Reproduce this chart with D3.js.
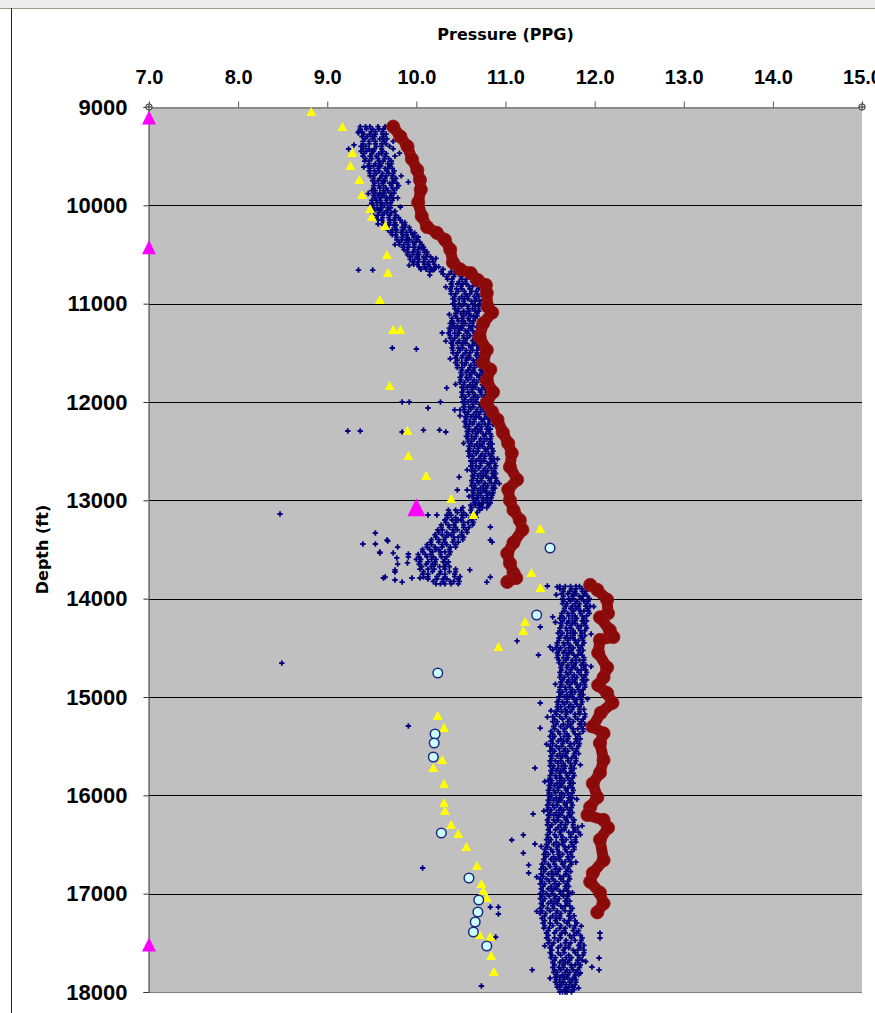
<!DOCTYPE html>
<html>
<head>
<meta charset="utf-8">
<script src="https://cdn.jsdelivr.net/npm/d3@7"></script>
<style>
  body { margin: 0; background: #ffffff; }
  svg { display: block; }
</style>
</head>
<body>
<svg id="chart" width="875" height="1013"></svg>
<script>
// ---- axis ticks ----
const pressureTicks = [7, 8, 9, 10, 11, 12, 13, 14, 15];
const depthTicks = [9000, 10000, 11000, 12000, 13000, 14000, 15000, 16000, 17000, 18000];

// ---- pore pressure log (blue): each row = [depth ft, pressure PPG ...] ----
const poreLogRows = [
  [9200, 9.37, 9.43, 9.48, 9.57, 9.65], [9225, 9.37, 9.44, 9.51, 9.58, 9.63],
  [9250, 9.35, 9.39, 9.49, 9.54, 9.62], [9275, 9.41, 9.48, 9.54, 9.62, 9.66],
  [9300, 9.39, 9.45, 9.51, 9.53, 9.63], [9325, 9.42, 9.51, 9.59, 9.62, 9.67],
  [9350, 9.40, 9.47, 9.54, 9.64, 9.74], [9375, 9.40, 9.47, 9.54, 9.61, 9.66],
  [9400, 9.38, 9.43, 9.55, 9.61, 9.70], [9425, 9.40, 9.47, 9.53, 9.61, 9.74],
  [9450, 9.38, 9.44, 9.50, 9.52, 9.62], [9475, 9.41, 9.50, 9.58, 9.61, 9.66],
  [9500, 9.40, 9.48, 9.55, 9.65, 9.76], [9525, 9.43, 9.50, 9.57, 9.64, 9.69],
  [9550, 9.42, 9.47, 9.58, 9.63, 9.72], [9575, 9.47, 9.54, 9.60, 9.68, 9.72],
  [9600, 9.46, 9.52, 9.58, 9.60, 9.70], [9625, 9.48, 9.57, 9.65, 9.68, 9.73],
  [9650, 9.47, 9.53, 9.58, 9.67, 9.75], [9675, 9.48, 9.55, 9.62, 9.69, 9.74],
  [9700, 9.48, 9.52, 9.61, 9.66, 9.73], [9725, 9.52, 9.59, 9.65, 9.73, 9.77],
  [9750, 9.51, 9.57, 9.63, 9.65, 9.75], [9775, 9.53, 9.62, 9.70, 9.73, 9.78],
  [9800, 9.52, 9.58, 9.63, 9.72, 9.80], [9825, 9.52, 9.59, 9.66, 9.73, 9.78],
  [9850, 9.50, 9.54, 9.63, 9.68, 9.75], [9875, 9.53, 9.59, 9.64, 9.71, 9.75],
  [9900, 9.52, 9.57, 9.62, 9.64, 9.72], [9925, 9.53, 9.60, 9.67, 9.70, 9.74],
  [9950, 9.50, 9.55, 9.59, 9.66, 9.73], [9975, 9.50, 9.56, 9.61, 9.67, 9.71],
  [10000, 9.48, 9.52, 9.60, 9.64, 9.71], [10025, 9.51, 9.56, 9.61, 9.68, 9.71],
  [10050, 9.48, 9.53, 9.58, 9.60, 9.68], [10075, 9.51, 9.58, 9.64, 9.67, 9.72],
  [10100, 9.51, 9.57, 9.62, 9.70, 9.77], [10125, 9.55, 9.62, 9.69, 9.76, 9.80],
  [10150, 9.57, 9.61, 9.70, 9.75, 9.82], [10175, 9.63, 9.70, 9.76, 9.84, 9.87],
  [10200, 9.63, 9.69, 9.75, 9.77, 9.87], [10225, 9.67, 9.76, 9.84, 9.87, 9.92],
  [10250, 9.68, 9.73, 9.78, 9.85, 9.93], [10275, 9.71, 9.77, 9.83, 9.89, 9.94],
  [10300, 9.73, 9.77, 9.85, 9.89, 9.96], [10325, 9.78, 9.84, 9.90, 9.97, 10.00],
  [10350, 9.78, 9.84, 9.89, 9.92, 10.01], [10375, 9.81, 9.89, 9.96, 9.99, 10.04],
  [10400, 9.81, 9.86, 9.91, 9.98, 10.06], [10425, 9.85, 9.91, 9.97, 10.03, 10.08],
  [10450, 9.86, 9.90, 9.98, 10.02, 10.09], [10475, 9.90, 9.96, 10.02, 10.09, 10.12],
  [10500, 9.90, 9.96, 10.01, 10.03, 10.12], [10525, 9.93, 10.01, 10.08, 10.11, 10.16],
  [10550, 9.93, 9.98, 10.03, 10.10, 10.18], [10575, 9.96, 10.02, 10.08, 10.14, 10.19],
  [10600, 9.97, 10.01, 10.09, 10.13, 10.20], [10625, 10.03, 10.09, 10.15, 10.22, 10.25],
  [10650, 10.05, 10.11, 10.17, 10.20, 10.30], [10675, 10.15, 10.28, 10.39, 10.44, 10.51],
  [10700, 10.30, 10.37, 10.43, 10.52, 10.62], [10725, 10.34, 10.42, 10.50, 10.58, 10.64],
  [10750, 10.35, 10.40, 10.51, 10.56, 10.65], [10775, 10.40, 10.48, 10.55, 10.63, 10.68],
  [10800, 10.39, 10.46, 10.52, 10.56, 10.66], [10825, 10.40, 10.50, 10.59, 10.63, 10.69],
  [10850, 10.38, 10.45, 10.51, 10.60, 10.70], [10875, 10.39, 10.47, 10.54, 10.62, 10.67],
  [10900, 10.39, 10.44, 10.55, 10.60, 10.68], [10925, 10.43, 10.51, 10.57, 10.65, 10.70],
  [10950, 10.41, 10.48, 10.54, 10.58, 10.67], [10975, 10.43, 10.53, 10.62, 10.66, 10.71],
  [11000, 10.41, 10.48, 10.54, 10.63, 10.71], [11025, 10.43, 10.51, 10.58, 10.66, 10.70],
  [11050, 10.43, 10.47, 10.58, 10.63, 10.70], [11075, 10.46, 10.53, 10.59, 10.66, 10.70],
  [11100, 10.44, 10.50, 10.56, 10.59, 10.68], [11125, 10.44, 10.53, 10.61, 10.64, 10.68],
  [11150, 10.40, 10.46, 10.51, 10.58, 10.66], [11175, 10.40, 10.47, 10.53, 10.60, 10.64],
  [11200, 10.38, 10.42, 10.51, 10.55, 10.63], [11225, 10.40, 10.46, 10.52, 10.59, 10.63],
  [11250, 10.37, 10.43, 10.49, 10.51, 10.61], [11275, 10.38, 10.47, 10.55, 10.58, 10.63],
  [11300, 10.36, 10.43, 10.48, 10.57, 10.66], [11325, 10.38, 10.46, 10.53, 10.60, 10.65],
  [11350, 10.38, 10.43, 10.53, 10.57, 10.66], [11375, 10.41, 10.48, 10.55, 10.63, 10.68],
  [11400, 10.39, 10.46, 10.52, 10.55, 10.65], [11425, 10.41, 10.51, 10.59, 10.63, 10.68],
  [11450, 10.40, 10.47, 10.52, 10.61, 10.70], [11475, 10.41, 10.49, 10.56, 10.63, 10.68],
  [11500, 10.41, 10.46, 10.55, 10.60, 10.68], [11525, 10.45, 10.52, 10.59, 10.67, 10.72],
  [11550, 10.44, 10.51, 10.57, 10.60, 10.70], [11575, 10.46, 10.56, 10.64, 10.68, 10.73],
  [11600, 10.44, 10.51, 10.56, 10.65, 10.74], [11625, 10.46, 10.54, 10.61, 10.68, 10.73],
  [11650, 10.46, 10.51, 10.60, 10.65, 10.73], [11675, 10.51, 10.58, 10.64, 10.72, 10.76],
  [11700, 10.50, 10.56, 10.62, 10.65, 10.74], [11725, 10.51, 10.60, 10.68, 10.71, 10.76],
  [11750, 10.49, 10.56, 10.61, 10.70, 10.78], [11775, 10.50, 10.58, 10.65, 10.72, 10.77],
  [11800, 10.49, 10.54, 10.63, 10.68, 10.76], [11825, 10.53, 10.60, 10.66, 10.74, 10.78],
  [11850, 10.51, 10.57, 10.63, 10.66, 10.76], [11875, 10.53, 10.62, 10.70, 10.73, 10.78],
  [11900, 10.51, 10.58, 10.63, 10.72, 10.79], [11925, 10.52, 10.59, 10.66, 10.73, 10.78],
  [11950, 10.51, 10.55, 10.64, 10.69, 10.76], [11975, 10.54, 10.61, 10.67, 10.75, 10.79],
  [12000, 10.52, 10.58, 10.64, 10.67, 10.77], [12025, 10.54, 10.63, 10.71, 10.74, 10.79],
  [12050, 10.53, 10.59, 10.64, 10.72, 10.80], [12075, 10.54, 10.61, 10.68, 10.75, 10.79],
  [12100, 10.54, 10.58, 10.67, 10.72, 10.79], [12125, 10.57, 10.64, 10.70, 10.77, 10.81],
  [12150, 10.55, 10.61, 10.67, 10.70, 10.79], [12175, 10.56, 10.65, 10.73, 10.76, 10.81],
  [12200, 10.54, 10.60, 10.65, 10.74, 10.82], [12225, 10.56, 10.63, 10.70, 10.77, 10.81],
  [12250, 10.55, 10.59, 10.68, 10.73, 10.80], [12275, 10.59, 10.66, 10.72, 10.79, 10.83],
  [12300, 10.57, 10.63, 10.69, 10.72, 10.81], [12325, 10.58, 10.67, 10.75, 10.78, 10.83],
  [12350, 10.56, 10.62, 10.67, 10.76, 10.84], [12375, 10.58, 10.65, 10.72, 10.79, 10.83],
  [12400, 10.58, 10.62, 10.71, 10.76, 10.83], [12425, 10.61, 10.68, 10.74, 10.81, 10.85],
  [12450, 10.59, 10.65, 10.71, 10.74, 10.83], [12475, 10.60, 10.69, 10.77, 10.80, 10.85],
  [12500, 10.58, 10.64, 10.69, 10.78, 10.86], [12525, 10.60, 10.67, 10.74, 10.81, 10.85],
  [12550, 10.59, 10.63, 10.72, 10.77, 10.84], [12575, 10.63, 10.70, 10.76, 10.83, 10.87],
  [12600, 10.61, 10.67, 10.73, 10.76, 10.85], [12625, 10.63, 10.72, 10.80, 10.83, 10.88],
  [12650, 10.61, 10.67, 10.72, 10.81, 10.89], [12675, 10.63, 10.70, 10.77, 10.84, 10.88],
  [12700, 10.62, 10.66, 10.75, 10.80, 10.87], [12725, 10.65, 10.72, 10.78, 10.85, 10.89],
  [12750, 10.63, 10.69, 10.75, 10.78, 10.87], [12775, 10.64, 10.73, 10.81, 10.84, 10.89],
  [12800, 10.62, 10.68, 10.73, 10.82, 10.90], [12825, 10.63, 10.70, 10.77, 10.84, 10.88],
  [12850, 10.62, 10.66, 10.75, 10.80, 10.87], [12875, 10.65, 10.72, 10.78, 10.85, 10.88],
  [12900, 10.63, 10.69, 10.75, 10.78, 10.86], [12925, 10.64, 10.72, 10.79, 10.82, 10.86],
  [12950, 10.63, 10.68, 10.72, 10.79, 10.85], [12975, 10.64, 10.69, 10.75, 10.80, 10.84],
  [13000, 10.64, 10.67, 10.74, 10.78, 10.83], [13025, 10.65, 10.70, 10.75, 10.80, 10.83],
  [13050, 10.61, 10.66, 10.71, 10.73, 10.81], [13075, 10.52, 10.62, 10.70, 10.74, 10.79],
  [13100, 10.36, 10.44, 10.50, 10.61, 10.71], [13125, 10.37, 10.46, 10.53, 10.62, 10.68],
  [13150, 10.34, 10.39, 10.51, 10.56, 10.66], [13175, 10.35, 10.44, 10.52, 10.61, 10.67],
  [13200, 10.32, 10.40, 10.47, 10.50, 10.62], [13225, 10.33, 10.44, 10.53, 10.58, 10.64],
  [13250, 10.28, 10.36, 10.42, 10.53, 10.63], [13275, 10.28, 10.37, 10.44, 10.53, 10.59],
  [13300, 10.24, 10.29, 10.41, 10.46, 10.56], [13325, 10.25, 10.34, 10.42, 10.51, 10.57],
  [13350, 10.21, 10.29, 10.36, 10.39, 10.51], [13375, 10.22, 10.33, 10.42, 10.47, 10.53],
  [13400, 10.17, 10.25, 10.31, 10.42, 10.52], [13425, 10.16, 10.25, 10.32, 10.41, 10.47],
  [13450, 10.12, 10.17, 10.29, 10.34, 10.44], [13475, 10.12, 10.21, 10.29, 10.38, 10.44],
  [13500, 10.07, 10.15, 10.22, 10.25, 10.37], [13525, 10.07, 10.18, 10.27, 10.32, 10.38],
  [13550, 10.02, 10.10, 10.16, 10.27, 10.37], [13575, 10.03, 10.12, 10.19, 10.28, 10.34],
  [13600, 10.00, 10.05, 10.17, 10.22, 10.32], [13625, 10.04, 10.13, 10.21, 10.30, 10.36],
  [13650, 10.03, 10.11, 10.18, 10.21, 10.33], [13675, 10.06, 10.17, 10.26, 10.31, 10.37],
  [13700, 10.04, 10.13, 10.20, 10.32, 10.44], [13725, 10.08, 10.18, 10.27, 10.37, 10.44],
  [13750, 10.07, 10.13, 10.26, 10.32, 10.43], [13775, 10.13, 10.23, 10.32, 10.43, 10.49],
  [13800, 10.13, 10.23, 10.30, 10.34, 10.47], [13825, 10.19, 10.30, 10.38, 10.42, 10.48],
  [13850, 10.22, 10.27, 10.32, 10.39, 10.47],
  [13875, 11.61, 11.67, 11.73, 11.79, 11.83], [13900, 11.61, 11.65, 11.74, 11.79, 11.86],
  [13925, 11.65, 11.72, 11.78, 11.86, 11.90], [13950, 11.63, 11.70, 11.76, 11.79, 11.89],
  [13975, 11.65, 11.75, 11.83, 11.87, 11.92], [14000, 11.64, 11.71, 11.76, 11.85, 11.94],
  [14025, 11.65, 11.73, 11.80, 11.88, 11.93], [14050, 11.64, 11.69, 11.78, 11.83, 11.91],
  [14075, 11.68, 11.75, 11.82, 11.90, 11.95], [14100, 11.66, 11.73, 11.79, 11.82, 11.92],
  [14125, 11.66, 11.76, 11.84, 11.88, 11.93], [14150, 11.63, 11.70, 11.75, 11.84, 11.94],
  [14175, 11.63, 11.71, 11.78, 11.86, 11.91], [14200, 11.61, 11.66, 11.75, 11.80, 11.88],
  [14225, 11.64, 11.71, 11.78, 11.86, 11.91], [14250, 11.62, 11.69, 11.75, 11.78, 11.88],
  [14275, 11.63, 11.73, 11.81, 11.85, 11.90], [14300, 11.61, 11.68, 11.73, 11.82, 11.91],
  [14325, 11.61, 11.69, 11.76, 11.84, 11.89], [14350, 11.59, 11.64, 11.73, 11.78, 11.86],
  [14375, 11.62, 11.69, 11.76, 11.84, 11.89], [14400, 11.60, 11.67, 11.73, 11.76, 11.86],
  [14425, 11.60, 11.70, 11.78, 11.82, 11.87], [14450, 11.58, 11.65, 11.70, 11.79, 11.88],
  [14475, 11.58, 11.66, 11.73, 11.81, 11.86], [14500, 11.57, 11.62, 11.71, 11.76, 11.84],
  [14525, 11.60, 11.67, 11.74, 11.82, 11.87], [14550, 11.58, 11.65, 11.71, 11.74, 11.84],
  [14575, 11.59, 11.69, 11.77, 11.81, 11.86], [14600, 11.58, 11.65, 11.70, 11.79, 11.88],
  [14625, 11.60, 11.68, 11.75, 11.83, 11.88], [14650, 11.60, 11.65, 11.74, 11.79, 11.87],
  [14675, 11.63, 11.70, 11.77, 11.85, 11.90], [14700, 11.62, 11.69, 11.75, 11.78, 11.88],
  [14725, 11.63, 11.73, 11.81, 11.85, 11.90], [14750, 11.61, 11.68, 11.73, 11.82, 11.91],
  [14775, 11.62, 11.70, 11.77, 11.85, 11.90], [14800, 11.61, 11.66, 11.75, 11.80, 11.88],
  [14825, 11.64, 11.71, 11.78, 11.86, 11.91], [14850, 11.62, 11.69, 11.75, 11.78, 11.88],
  [14875, 11.63, 11.72, 11.80, 11.84, 11.89], [14900, 11.61, 11.67, 11.72, 11.81, 11.89],
  [14925, 11.61, 11.68, 11.75, 11.82, 11.87], [14950, 11.60, 11.64, 11.73, 11.78, 11.85],
  [14975, 11.62, 11.69, 11.75, 11.83, 11.87], [15000, 11.60, 11.66, 11.72, 11.75, 11.84],
  [15025, 11.60, 11.69, 11.77, 11.80, 11.85], [15050, 11.58, 11.64, 11.69, 11.78, 11.86],
  [15075, 11.59, 11.66, 11.73, 11.80, 11.85], [15100, 11.58, 11.62, 11.71, 11.76, 11.83],
  [15125, 11.59, 11.67, 11.75, 11.83, 11.88], [15150, 11.56, 11.63, 11.69, 11.73, 11.83],
  [15175, 11.57, 11.68, 11.78, 11.83, 11.89], [15200, 11.53, 11.61, 11.68, 11.78, 11.89],
  [15225, 11.55, 11.64, 11.72, 11.81, 11.87], [15250, 11.53, 11.58, 11.70, 11.76, 11.85],
  [15275, 11.57, 11.65, 11.73, 11.83, 11.89], [15300, 11.54, 11.62, 11.69, 11.73, 11.85],
  [15325, 11.55, 11.66, 11.76, 11.81, 11.87], [15350, 11.51, 11.59, 11.66, 11.76, 11.87],
  [15375, 11.53, 11.61, 11.69, 11.78, 11.83], [15400, 11.50, 11.55, 11.66, 11.71, 11.81],
  [15425, 11.53, 11.62, 11.70, 11.79, 11.84], [15450, 11.51, 11.59, 11.65, 11.69, 11.80],
  [15475, 11.53, 11.64, 11.73, 11.77, 11.83], [15500, 11.50, 11.57, 11.63, 11.72, 11.82],
  [15525, 11.52, 11.60, 11.67, 11.75, 11.80], [15550, 11.50, 11.55, 11.65, 11.70, 11.79],
  [15575, 11.53, 11.61, 11.68, 11.77, 11.82], [15600, 11.51, 11.58, 11.64, 11.67, 11.77],
  [15625, 11.52, 11.62, 11.70, 11.74, 11.79], [15650, 11.50, 11.56, 11.62, 11.70, 11.79],
  [15675, 11.51, 11.59, 11.65, 11.73, 11.78], [15700, 11.50, 11.54, 11.63, 11.67, 11.74],
  [15725, 11.53, 11.59, 11.66, 11.73, 11.77], [15750, 11.51, 11.57, 11.62, 11.65, 11.74],
  [15775, 11.52, 11.61, 11.68, 11.72, 11.76], [15800, 11.50, 11.56, 11.61, 11.69, 11.77],
  [15825, 11.50, 11.57, 11.63, 11.70, 11.75], [15850, 11.48, 11.52, 11.61, 11.66, 11.73],
  [15875, 11.51, 11.58, 11.64, 11.72, 11.76], [15900, 11.49, 11.55, 11.61, 11.63, 11.73],
  [15925, 11.50, 11.59, 11.67, 11.70, 11.75], [15950, 11.48, 11.54, 11.59, 11.68, 11.76],
  [15975, 11.49, 11.56, 11.63, 11.70, 11.75], [16000, 11.48, 11.52, 11.61, 11.66, 11.73],
  [16025, 11.50, 11.57, 11.63, 11.71, 11.75], [16050, 11.48, 11.54, 11.60, 11.62, 11.72],
  [16075, 11.49, 11.58, 11.66, 11.69, 11.74], [16100, 11.47, 11.53, 11.58, 11.67, 11.75],
  [16125, 11.48, 11.55, 11.62, 11.69, 11.74], [16150, 11.47, 11.51, 11.60, 11.65, 11.72],
  [16175, 11.50, 11.57, 11.63, 11.71, 11.75], [16200, 11.48, 11.54, 11.60, 11.62, 11.72],
  [16225, 11.49, 11.58, 11.66, 11.69, 11.74], [16250, 11.47, 11.54, 11.59, 11.68, 11.77],
  [16275, 11.48, 11.56, 11.63, 11.70, 11.76], [16300, 11.47, 11.52, 11.62, 11.67, 11.76],
  [16325, 11.50, 11.59, 11.67, 11.76, 11.81], [16350, 11.48, 11.56, 11.63, 11.66, 11.78],
  [16375, 11.50, 11.61, 11.71, 11.76, 11.82], [16400, 11.47, 11.55, 11.62, 11.73, 11.84],
  [16425, 11.48, 11.57, 11.64, 11.73, 11.79], [16450, 11.46, 11.51, 11.63, 11.68, 11.78],
  [16475, 11.49, 11.57, 11.65, 11.74, 11.79], [16500, 11.46, 11.54, 11.60, 11.64, 11.75],
  [16525, 11.47, 11.58, 11.67, 11.71, 11.77], [16550, 11.44, 11.51, 11.58, 11.67, 11.77],
  [16575, 11.45, 11.53, 11.60, 11.69, 11.74], [16600, 11.43, 11.48, 11.59, 11.64, 11.73],
  [16625, 11.45, 11.54, 11.61, 11.70, 11.75], [16650, 11.43, 11.51, 11.57, 11.60, 11.71],
  [16675, 11.44, 11.54, 11.63, 11.67, 11.73], [16700, 11.41, 11.48, 11.55, 11.64, 11.74],
  [16725, 11.42, 11.50, 11.57, 11.66, 11.71], [16750, 11.40, 11.45, 11.56, 11.61, 11.70],
  [16775, 11.43, 11.52, 11.59, 11.68, 11.73], [16800, 11.40, 11.48, 11.54, 11.57, 11.68],
  [16825, 11.42, 11.52, 11.61, 11.65, 11.71], [16850, 11.39, 11.46, 11.53, 11.62, 11.72],
  [16875, 11.41, 11.49, 11.56, 11.65, 11.70], [16900, 11.39, 11.44, 11.55, 11.60, 11.69],
  [16925, 11.42, 11.51, 11.58, 11.67, 11.71], [16950, 11.40, 11.48, 11.54, 11.57, 11.68],
  [16975, 11.42, 11.52, 11.61, 11.65, 11.70], [17000, 11.39, 11.46, 11.53, 11.62, 11.71],
  [17025, 11.41, 11.49, 11.56, 11.65, 11.70], [17050, 11.39, 11.44, 11.55, 11.60, 11.69],
  [17075, 11.42, 11.51, 11.58, 11.67, 11.72], [17100, 11.40, 11.48, 11.54, 11.58, 11.69],
  [17125, 11.42, 11.53, 11.62, 11.67, 11.72], [17150, 11.39, 11.47, 11.54, 11.64, 11.75],
  [17175, 11.41, 11.50, 11.58, 11.67, 11.73], [17200, 11.39, 11.45, 11.57, 11.62, 11.72],
  [17225, 11.44, 11.53, 11.61, 11.71, 11.77], [17250, 11.41, 11.50, 11.57, 11.61, 11.73],
  [17275, 11.44, 11.56, 11.66, 11.71, 11.78], [17300, 11.42, 11.50, 11.58, 11.69, 11.80],
  [17325, 11.44, 11.53, 11.62, 11.72, 11.78], [17350, 11.43, 11.49, 11.61, 11.67, 11.77],
  [17375, 11.48, 11.57, 11.66, 11.76, 11.82], [17400, 11.46, 11.55, 11.63, 11.67, 11.80],
  [17425, 11.48, 11.61, 11.72, 11.77, 11.84], [17450, 11.46, 11.55, 11.62, 11.74, 11.86],
  [17475, 11.49, 11.59, 11.68, 11.78, 11.85], [17500, 11.48, 11.54, 11.67, 11.73, 11.84],
  [17525, 11.52, 11.62, 11.71, 11.82, 11.88], [17550, 11.50, 11.59, 11.67, 11.71, 11.84],
  [17575, 11.52, 11.65, 11.76, 11.81, 11.88], [17600, 11.50, 11.59, 11.66, 11.78, 11.88],
  [17625, 11.52, 11.62, 11.71, 11.81, 11.87], [17650, 11.51, 11.56, 11.68, 11.74, 11.83],
  [17675, 11.55, 11.64, 11.72, 11.81, 11.86], [17700, 11.53, 11.61, 11.67, 11.70, 11.81],
  [17725, 11.55, 11.65, 11.74, 11.78, 11.84], [17750, 11.53, 11.60, 11.65, 11.74, 11.83],
  [17775, 11.55, 11.62, 11.69, 11.76, 11.81], [17800, 11.54, 11.58, 11.67, 11.72, 11.79],
  [17825, 11.57, 11.64, 11.70, 11.78, 11.82], [17850, 11.56, 11.61, 11.66, 11.69, 11.77],
  [17875, 11.57, 11.65, 11.72, 11.75, 11.79], [17900, 11.56, 11.61, 11.65, 11.72, 11.79],
  [17925, 11.58, 11.63, 11.68, 11.74, 11.78], [17950, 11.58, 11.61, 11.68, 11.71, 11.76],
  [17975, 11.61, 11.66, 11.70, 11.75, 11.77], [18000, 11.61, 11.64, 11.67, 11.69, 11.74]
];

// scattered log readings away from the main trend: [depth ft, pressure PPG]
const poreLogScatter = [
  [9264, 9.35], [9386, 9.30], [9427, 9.24], [9763, 9.91], [9925, 9.79], [10017, 9.82],
  [10322, 10.02], [10434, 10.06], [10658, 9.35], [10658, 9.51], [10658, 10.19], [10709, 10.15],
  [11298, 10.29], [11451, 9.73], [11461, 10.00], [11857, 10.34], [12000, 9.84], [12000, 9.92],
  [12061, 10.13], [12000, 10.27], [12081, 10.43], [12081, 10.49], [12295, 9.23], [12295, 9.37],
  [12305, 9.84], [12285, 10.08], [12285, 10.26], [12305, 10.33], [12763, 10.48], [12895, 10.46],
  [12895, 10.57], [13149, 10.13], [13149, 10.23], [13139, 8.47],
  [13332, 9.54], [13444, 9.40], [13444, 9.54], [13414, 9.68], [13536, 9.59], [13536, 9.74],
  [13475, 9.79], [13586, 9.78], [13648, 9.79], [13729, 9.76], [13790, 9.63], [13810, 9.76],
  [13831, 9.84], [13546, 9.91], [13637, 9.90], [13790, 9.95], [13790, 10.04], [13780, 9.65],
  [13780, 10.08], [13404, 9.67], [13526, 9.59], [13576, 9.91], [13708, 9.76],
  [13271, 10.83], [13424, 10.85], [13831, 10.79], [13780, 10.83], [13404, 10.83], [13708, 10.60],
  [13871, 11.47], [13881, 11.58], [14186, 11.53], [14288, 11.39], [14430, 11.13], [14491, 11.50],
  [14573, 11.37], [14655, 8.49], [15061, 11.39], [15204, 11.47], [15295, 9.91], [15316, 11.39],
  [15722, 11.33], [16190, 11.31], [16403, 11.20], [16454, 11.07], [16495, 11.33], [16587, 11.20],
  [16709, 11.26], [16739, 10.07], [16790, 11.26], [17136, 10.83], [17136, 10.92], [17207, 10.92],
  [17441, 10.89], [17400, 12.06], [17451, 12.06], [17654, 12.05], [17746, 11.97], [17776, 12.05],
  [17776, 11.30], [17807, 11.84], [17939, 10.73],
  // ragged edges of the main trend
  [9290, 9.78], [9470, 9.81], [9610, 9.41], [9700, 9.83], [9880, 9.46], [10060, 9.76],
  [10190, 9.57], [10280, 9.98], [10400, 9.76], [10540, 10.22], [10610, 9.92],
  [10830, 10.33], [10960, 10.75], [11110, 10.37], [11240, 10.68], [11380, 10.33], [11560, 10.38],
  [11640, 10.79], [11820, 10.44], [11960, 10.83], [12140, 10.49], [12230, 10.86], [12420, 10.53],
  [12580, 10.91], [12690, 10.57], [12830, 10.93], [12960, 10.59],
  [13960, 11.57], [14080, 11.99], [14240, 11.56], [14360, 11.96], [14520, 11.53], [14690, 11.96],
  [14870, 11.56], [15020, 11.92], [15140, 11.51], [15330, 11.93], [15480, 11.46], [15690, 11.84],
  [15860, 11.44], [16040, 11.80], [16160, 11.43], [16310, 11.86], [16520, 11.40], [16680, 11.79],
  [16830, 11.35], [16990, 11.75], [17180, 11.35], [17330, 11.85], [17530, 11.44], [17690, 11.90],
  [17860, 11.50], [17960, 11.82]
];

// ---- mud weight trace (dark red), two hole sections: [depth ft, PPG] ----
const mudWeightUpper = [
  [9200, 9.74], [9300, 9.82], [9400, 9.90], [9530, 9.95], [9640, 10.01], [9740, 10.04],
  [9840, 10.05], [9970, 10.02], [10110, 10.06], [10220, 10.12], [10280, 10.23], [10350, 10.32],
  [10450, 10.38], [10580, 10.41], [10650, 10.49], [10690, 10.61], [10760, 10.69], [10810, 10.78],
  [10890, 10.79], [11030, 10.80], [11090, 10.85], [11200, 10.75], [11340, 10.71], [11470, 10.79],
  [11600, 10.75], [11670, 10.83], [11780, 10.79], [11900, 10.86], [12010, 10.79], [12100, 10.85],
  [12180, 10.91], [12310, 10.97], [12420, 11.03], [12520, 11.07], [12660, 11.05], [12790, 11.13],
  [12890, 11.03], [13000, 11.05], [13100, 11.09], [13200, 11.16], [13300, 11.19], [13430, 11.09],
  [13540, 11.02], [13640, 11.05], [13740, 11.09], [13790, 11.12], [13830, 11.02]
];
const mudWeightLower = [
  [13860, 11.95], [13910, 12.03], [14010, 12.14], [14150, 12.15], [14190, 12.06], [14320, 12.17],
  [14390, 12.21], [14420, 12.06], [14550, 12.04], [14700, 12.14], [14800, 12.10], [14880, 12.04],
  [14960, 12.14], [15060, 12.20], [15160, 12.07], [15300, 11.98], [15370, 12.10], [15470, 12.06],
  [15640, 12.10], [15770, 12.06], [15880, 11.98], [16020, 12.03], [16120, 11.95], [16200, 11.92],
  [16250, 12.10], [16330, 12.15], [16450, 12.06], [16660, 12.10], [16790, 11.98], [16880, 11.95],
  [16990, 12.06], [17100, 12.10], [17190, 12.03]
];

// ---- pore pressure estimates (yellow triangles) ----
const estimateDepth = [9061, 9214, 9478, 9610, 9753, 9905, 10047, 10129, 10220, 10515, 10698,
  10973, 11278, 11278, 11847, 12305, 12559, 12763, 12997, 13160, 13302, 13749, 13902, 14247,
  14339, 14502, 15203, 15326, 15651, 15732, 15895, 16088, 16169, 16312, 16403, 16536, 16729,
  16912, 16983, 17054, 17430, 17451, 17644, 17807];
const estimatePpg = [8.82, 9.17, 9.28, 9.26, 9.36, 9.39, 9.48, 9.50, 9.65, 9.67, 9.68,
  9.59, 9.74, 9.82, 9.70, 9.90, 9.91, 10.11, 10.39, 10.64, 11.39, 11.29, 11.39, 11.22,
  11.20, 10.92, 10.24, 10.31, 10.29, 10.19, 10.31, 10.31, 10.32, 10.39, 10.47, 10.56, 10.68,
  10.73, 10.75, 10.79, 10.71, 10.83, 10.84, 10.87];

// ---- formation pressure tests (pale cyan circles) ----
const testDepth = [13485, 14166, 14756, 15376, 15468, 15610, 16383, 16841, 17064, 17186, 17288, 17390, 17532];
const testPpg = [11.50, 11.35, 10.24, 10.21, 10.20, 10.19, 10.28, 10.59, 10.70, 10.69, 10.66, 10.64, 10.79];

// ---- kick / event markers (magenta triangles) ----
const eventDepth = [9130, 10450, 17540, 13100];
const eventPpg = [7.0, 7.0, 7.0, 10.0];
const eventSize = [14, 14, 14, 18];

// ---- layout ----
const W = 875, H = 1013;
const plot = { left: 149, right: 862, top: 107, bottom: 992 };
const FONT = "'Liberation Sans', Arial, sans-serif";
const TITLE_FONT = "'DejaVu Sans', Verdana, sans-serif";

const svg = d3.select("#chart");
const x = d3.scaleLinear().domain([7, 15]).range([plot.left, plot.right]);
const y = d3.scaleLinear().domain([9000, 18000]).range([plot.top, plot.bottom]);

// outer frame
svg.append("rect").attr("x", 0).attr("y", 0).attr("width", W).attr("height", 8).attr("fill", "#ececec");
svg.append("line").attr("x1", 0).attr("x2", W).attr("y1", 8.5).attr("y2", 8.5).attr("stroke", "#9a9a8a").attr("stroke-width", 1);
svg.append("line").attr("x1", 11.5).attr("x2", 11.5).attr("y1", 8).attr("y2", H).attr("stroke", "#222").attr("stroke-width", 1);

// plot background
svg.append("rect")
  .attr("x", plot.left).attr("y", plot.top)
  .attr("width", plot.right - plot.left).attr("height", plot.bottom - plot.top)
  .attr("fill", "#c0c0c0");

// horizontal gridlines
svg.append("g").selectAll("line")
  .data(depthTicks.slice(1, -1))
  .join("line")
  .attr("x1", plot.left).attr("x2", plot.right)
  .attr("y1", d => Math.round(y(d)) + 0.5).attr("y2", d => Math.round(y(d)) + 0.5)
  .attr("stroke", "#000").attr("stroke-width", 1);

// bottom edge
svg.append("line")
  .attr("x1", plot.left).attr("x2", plot.right)
  .attr("y1", plot.bottom + 0.5).attr("y2", plot.bottom + 0.5)
  .attr("stroke", "#808080");

// top axis (pressure)
const xAxis = svg.append("g")
  .attr("transform", `translate(0,${plot.top + 0.5})`)
  .call(d3.axisTop(x).tickValues(pressureTicks).tickFormat(d3.format(".1f")).tickSize(6).tickPadding(18));
xAxis.select(".domain").attr("stroke", "#555");
xAxis.selectAll(".tick line").attr("stroke", "#555");
xAxis.selectAll("text").attr("font-family", FONT).attr("font-size", 20).attr("font-weight", "bold").attr("fill", "#000");

// left axis (depth)
const yAxis = svg.append("g")
  .attr("transform", `translate(${plot.left - 0.5},0)`)
  .call(d3.axisLeft(y).tickValues(depthTicks).tickFormat(d3.format("d")).tickSize(5).tickPadding(16));
yAxis.select(".domain").attr("stroke", "#333");
yAxis.selectAll(".tick line").attr("stroke", "#333");
yAxis.selectAll("text").attr("font-family", FONT).attr("font-size", 22).attr("font-weight", "bold").attr("fill", "#000");

// axis titles
svg.append("text")
  .attr("x", (plot.left + plot.right) / 2).attr("y", 40)
  .attr("text-anchor", "middle")
  .attr("font-family", TITLE_FONT).attr("font-size", 16).attr("font-weight", "bold")
  .text("Pressure (PPG)");
svg.append("text")
  .attr("transform", `translate(48,${(plot.top + plot.bottom) / 2}) rotate(-90)`)
  .attr("text-anchor", "middle")
  .attr("font-family", TITLE_FONT).attr("font-size", 16).attr("font-weight", "bold")
  .text("Depth (ft)");

// corner markers on the top axis
svg.append("g").selectAll("g")
  .data([7, 15])
  .join("g")
  .attr("transform", d => `translate(${x(d)},${y(9000)})`)
  .each(function () {
    const g = d3.select(this);
    g.append("circle").attr("r", 3.2).attr("fill", "#e8e8e8").attr("stroke", "#333").attr("stroke-width", 1);
    g.append("path").attr("d", "M-3,0H3M0,-3V3").attr("stroke", "#333").attr("stroke-width", 1);
  });

// blue pore pressure log
const logPoints = [];
poreLogRows.forEach(r => r.slice(1).forEach(p => logPoints.push([r[0], p])));
poreLogScatter.forEach(d => logPoints.push(d));
const cross = "M-2.7,0H2.7M0,-2.7V2.7";
svg.append("g").selectAll("path")
  .data(logPoints)
  .join("path")
  .attr("transform", d => `translate(${x(d[1])},${y(d[0])})`)
  .attr("d", cross)
  .attr("stroke", "#000080").attr("stroke-width", 1.8);

// mud weight traces
const mwLine = d3.line().x(d => x(d[1])).y(d => y(d[0]));
[mudWeightUpper, mudWeightLower].forEach(seg => {
  const g = svg.append("g");
  g.append("path").attr("d", mwLine(seg))
    .attr("fill", "none").attr("stroke", "#8a0a0a").attr("stroke-width", 11)
    .attr("stroke-linejoin", "round").attr("stroke-linecap", "round");
  g.selectAll("circle").data(seg).join("circle")
    .attr("cx", d => x(d[1])).attr("cy", d => y(d[0])).attr("r", 6.6)
    .attr("fill", "#8a0a0a").attr("stroke", "#9c1414").attr("stroke-width", 0.8);
});

// yellow estimate triangles
const tri = (w, h) => `M0,${-h * 2 / 3}L${w / 2},${h / 3}L${-w / 2},${h / 3}Z`;
svg.append("g").selectAll("path")
  .data(estimateDepth.map((d, i) => [d, estimatePpg[i]]))
  .join("path")
  .attr("transform", d => `translate(${x(d[1])},${y(d[0])})`)
  .attr("d", tri(10, 9))
  .attr("fill", "#ffff00");

// pressure test circles
svg.append("g").selectAll("circle")
  .data(testDepth.map((d, i) => [d, testPpg[i]]))
  .join("circle")
  .attr("cx", d => x(d[1])).attr("cy", d => y(d[0])).attr("r", 4.8)
  .attr("fill", "#ccffff").attr("stroke", "#1c2a80").attr("stroke-width", 1.5);

// magenta event triangles
svg.append("g").selectAll("path")
  .data(eventDepth.map((d, i) => [d, eventPpg[i], eventSize[i]]))
  .join("path")
  .attr("transform", d => `translate(${x(d[1])},${y(d[0])})`)
  .attr("d", d => tri(d[2], d[2]))
  .attr("fill", "#ff00ff");
</script>
</body>
</html>
